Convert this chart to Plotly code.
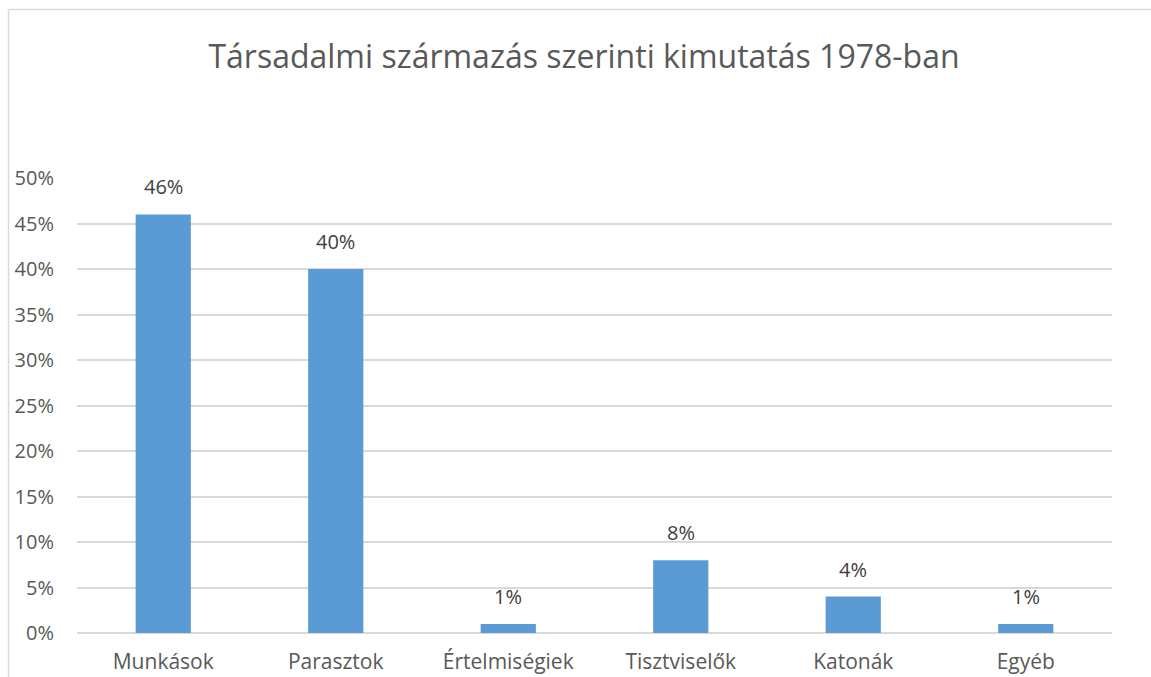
import plotly.graph_objects as go

categories = ["Munkások", "Parasztok", "Értelmiségiek", "Tisztviselők", "Katonák", "Egyéb"]
values = [0.46, 0.40, 0.01, 0.08, 0.04, 0.01]
labels = ["46%", "40%", "1%", "8%", "4%", "1%"]
title = "Társadalmi származás szerinti kimutatás 1978-ban"

W, H = 1151, 677
L, R, T, B = 77, 39, 178, 44
pw, ph = W - L - R, H - T - B

fig = go.Figure(go.Bar(
    x=categories, y=values,
    marker_color="#5B9BD5", marker_line_width=0,
))

for c, v, t in zip(categories, values, labels):
    fig.add_annotation(x=c, y=v, text=t, showarrow=False, yanchor="bottom", yshift=12,
                       font=dict(size=20, color="#404040"))

def px_x(p):
    return (p - L) / pw

def px_y(p):
    return (H - B - p) / ph

border = dict(color="#D9D9D9", width=1.5)
fig.update_layout(
    width=W, height=H,
    margin=dict(l=L, r=R, t=T, b=B, autoexpand=False),
    paper_bgcolor="white", plot_bgcolor="white",
    font=dict(family="Open Sans, Noto Sans, sans-serif", color="#595959"),
    bargap=0.68,
    showlegend=False,
    title=dict(text=title, x=584 / W, xanchor="center", y=1 - 57 / H, yanchor="middle",
               font=dict(size=32, color="#595959")),
    xaxis=dict(showline=False, ticks="", tickfont=dict(size=21, color="#595959"),
               ticklabelstandoff=14),
    yaxis=dict(range=[0, 0.5], dtick=0.05, tickformat=".0%", showgrid=True,
               gridcolor="#D9D9D9", gridwidth=1.5, zeroline=True, zerolinecolor="#D9D9D9",
               zerolinewidth=1.5, tickfont=dict(size=20, color="#595959"), ticks="",
               ticklabelstandoff=22),
    shapes=[
        dict(type="line", xref="paper", yref="paper",
             x0=px_x(8.5), x1=px_x(W + 20), y0=px_y(9.5), y1=px_y(9.5), line=border, layer="below"),
        dict(type="line", xref="paper", yref="paper",
             x0=px_x(8.5), x1=px_x(8.5), y0=px_y(9.5), y1=px_y(H + 20), line=border, layer="below"),
    ],
)

fig.write_html("out.html", config={"displayModeBar": False},
               post_script="document.body.style.margin='0';document.body.style.overflow='hidden';")
